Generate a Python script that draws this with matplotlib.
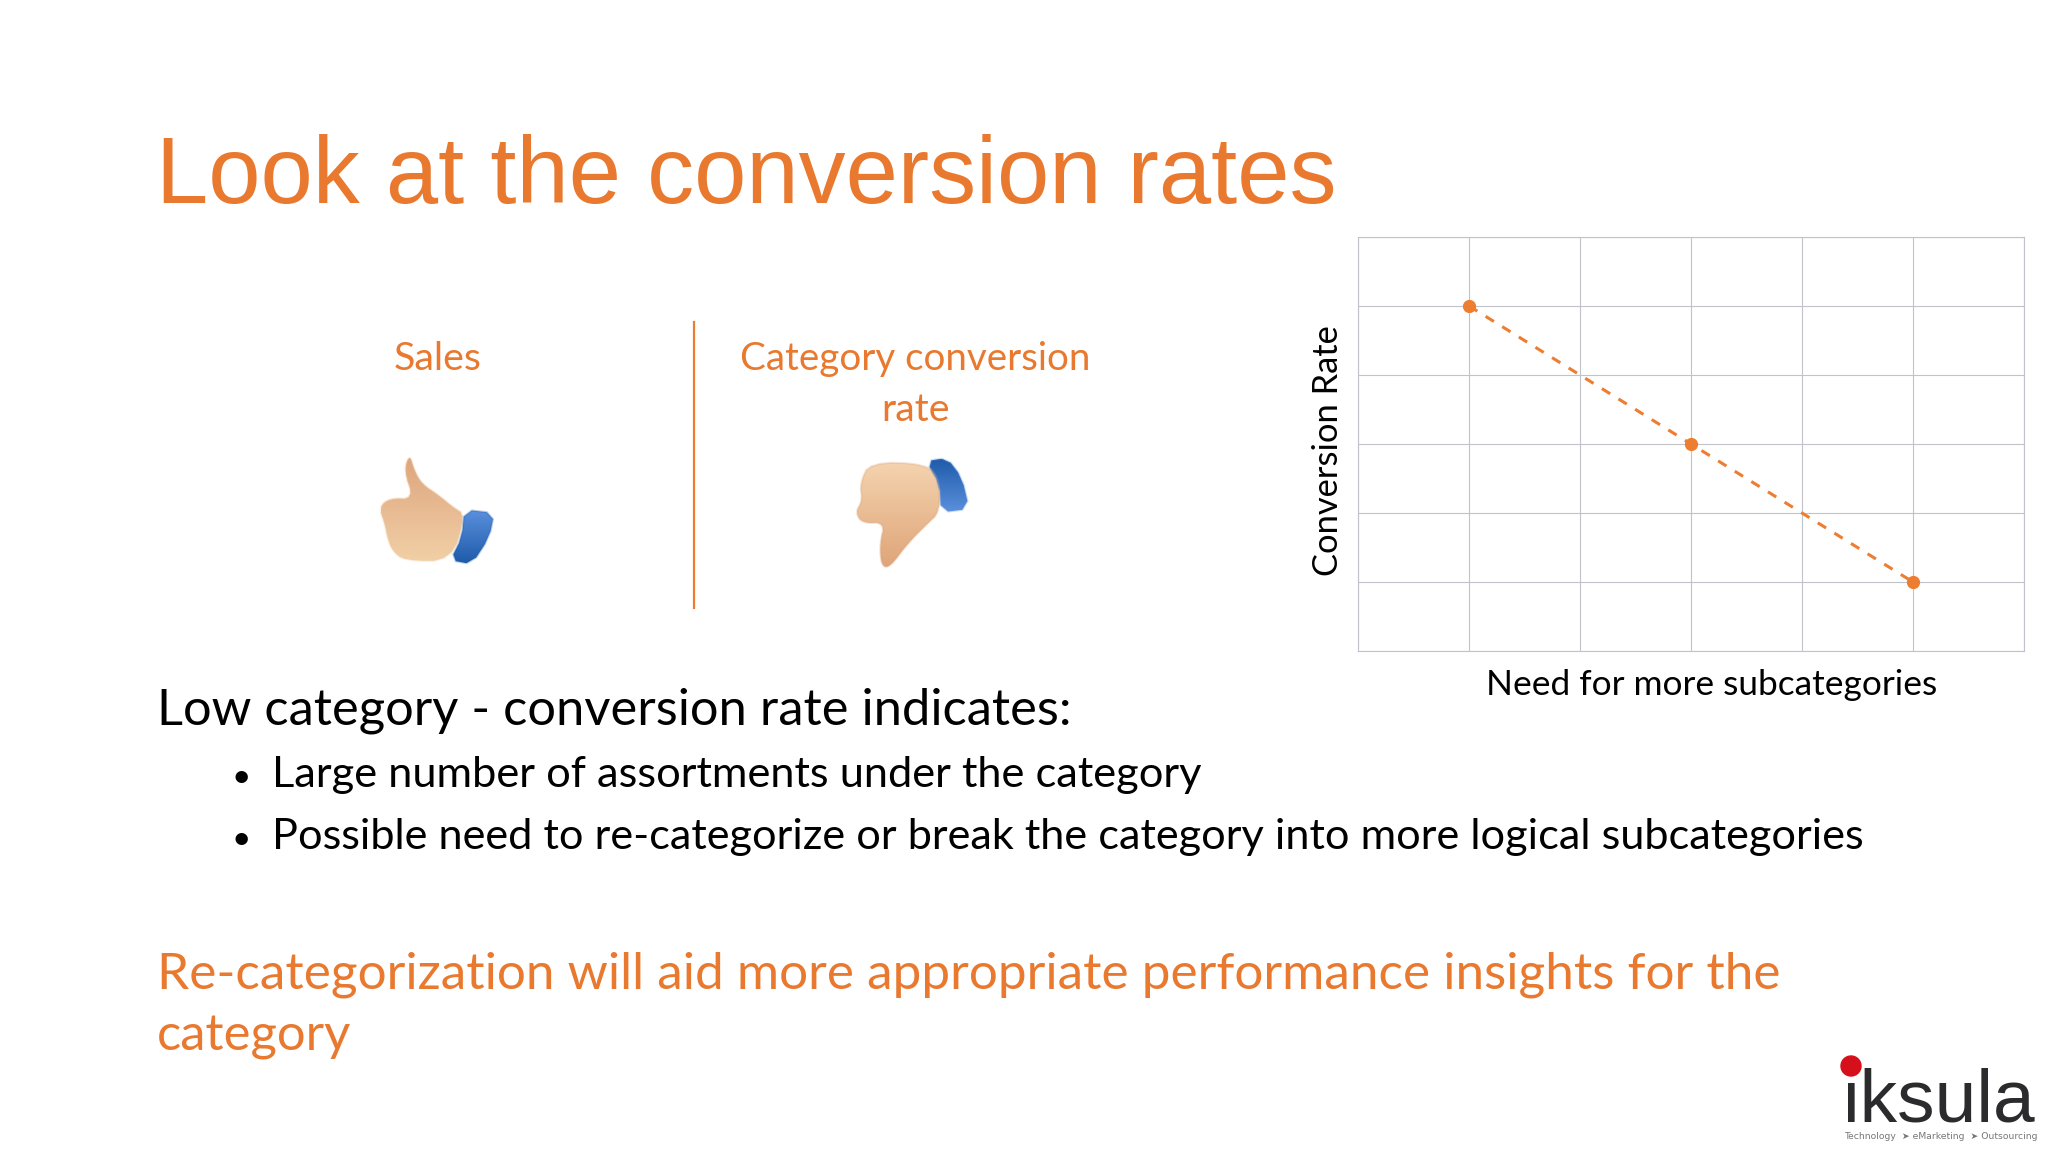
import numpy as np
import matplotlib
matplotlib.use('Agg')
import matplotlib.pyplot as plt
from matplotlib.patches import Polygon, Circle

# chart values
need_x = [1, 3, 5]
conv_y = [5, 3, 1]
grid_ticks = [0, 1, 2, 3, 4, 5, 6]

title_text = 'Look at the conversion rates'
left_head = 'Sales'
right_head = ['Category conversion', 'rate']
low_head = 'Low category - conversion rate indicates:'
bullets = ['Large number of assortments under the category',
           'Possible need to re-categorize or break the category into more logical subcategories']
bottom_lines = ['Re-categorization will aid more appropriate performance insights for the', 'category']

ORANGE = '#ED7D31'
TEXT_ORANGE = '#E8792F'
W, H = 2048, 1152

fig = plt.figure(figsize=(W/100, H/100), dpi=100, facecolor='white')
bg = fig.add_axes([0, 0, 1, 1])
bg.set_xlim(0, W)
bg.set_ylim(H, 0)
bg.axis('off')
renderer = fig.canvas.get_renderer()


def put(x, y, s, width, color='black', family='Lato', ha='left', rotation=0, **kw):
    # scale the font so the string takes the same width as on the slide
    t = bg.text(x, y, s, color=color, family=family, ha=ha, va='baseline',
                rotation=rotation, rotation_mode='anchor', fontsize=20, **kw)
    ext = t.get_window_extent(renderer)
    t.set_fontsize(20*width/max(ext.width, ext.height))
    return t


put(156, 203, title_text, 1176, color=TEXT_ORANGE, family='Liberation Sans')
put(438, 370, left_head, 88, color=TEXT_ORANGE, ha='center')
put(915, 370, right_head[0], 350, color=TEXT_ORANGE, ha='center')
put(915, 421, right_head[1], 69, color=TEXT_ORANGE, ha='center')
bg.plot([693.5, 693.5], [322, 608], color=ORANGE, lw=1.6)

put(157, 725, low_head, 914)
for y, s, w in zip([787, 849], bullets, [934, 1594]):
    bg.text(241, y, '\u2022', fontsize=24, family='Lato', ha='center', va='baseline')
    put(272, y, s, w)
put(157, 989, bottom_lines[0], 1628, color=TEXT_ORANGE)
put(157, 1050, bottom_lines[1], 194, color=TEXT_ORANGE)


def smooth(pts, rounds=2):
    # corner cutting so the hand outlines are not so angular
    pts = np.array(pts, float)
    for _ in range(rounds):
        nxt = np.roll(pts, -1, axis=0)
        pts = np.column_stack([0.75*pts + 0.25*nxt, 0.25*pts + 0.75*nxt]).reshape(-1, 2)
    return pts


def gradient_poly(pts, c1, c2, rounds=2):
    # polygon filled with a soft two colour gradient
    pts = smooth(pts, rounds)
    x0, x1 = pts[:, 0].min(), pts[:, 0].max()
    y0, y1 = pts[:, 1].min(), pts[:, 1].max()
    c1 = np.array(matplotlib.colors.to_rgb(c1))
    c2 = np.array(matplotlib.colors.to_rgb(c2))
    f = np.linspace(0, 1, 64)[:, None]
    img = (c1*(1-f) + c2*f)[:, None, :]
    im = bg.imshow(img, extent=(x0, x1, y1, y0), aspect='auto', zorder=2)
    im.set_clip_path(Polygon(pts, closed=True, transform=bg.transData))
    bg.add_patch(Polygon(pts, closed=True, fc='none', ec=c2, lw=1.5, alpha=0.3, zorder=3))


def from_zoom(pts):
    return [(340 + x/2.01, 310 + y/2.99) for x, y in pts]


up_thumb = from_zoom([(140, 430), (150, 480), (165, 520), (200, 555), (228, 590), (252, 612), (225, 750),
                      (130, 750), (105, 720), (95, 680), (90, 640), (78, 590), (100, 562), (148, 565),
                      (128, 480)])
up_cuff = from_zoom([(250, 597), (310, 607), (300, 680), (265, 760), (222, 748), (245, 680)])
down_thumb = from_zoom([(1065, 455), (1180, 460), (1205, 510), (1205, 605), (1180, 640), (1140, 700),
                        (1105, 770), (1088, 765), (1085, 700), (1095, 635), (1050, 638), (1036, 605),
                        (1050, 570), (1045, 520)])
down_cuff = from_zoom([(1178, 452), (1220, 442), (1250, 500), (1265, 595), (1208, 605), (1205, 520)])
gradient_poly(up_thumb, '#DDA67E', '#F2CFA6')
gradient_poly(up_cuff, '#5A90DC', '#1F5BAA', rounds=1)
gradient_poly(down_thumb, '#F4D3AE', '#DFA57A')
gradient_poly(down_cuff, '#1F5BAA', '#5A90DC', rounds=1)
bg.set_xlim(0, W)
bg.set_ylim(H, 0)

# iksula logo
put(1843, 1121, 'iksula', 192, family=['Liberation Sans Narrow', 'Liberation Sans'], color='#2B2B2D')
bg.add_patch(Circle((1851, 1066), 10, color='#D5101A', zorder=4))
put(1844, 1139, 'Technology  \u27a4 eMarketing  \u27a4 Outsourcing', 192, color='#77777A', family='DejaVu Sans')

# chart
ax = fig.add_axes([1358/W, 1 - 651/H, (2024 - 1358)/W, (651 - 237)/H])
ax.patch.set_alpha(0)
ax.set_xlim(0, 6)
ax.set_ylim(0, 6)
ax.set_xticks(grid_ticks)
ax.set_yticks(grid_ticks)
ax.set_xticklabels([])
ax.set_yticklabels([])
ax.tick_params(length=0)
ax.grid(True, color='#C2C2CA', lw=0.8)
ax.set_axisbelow(True)
for s in ax.spines.values():
    s.set_color('#C2C2CA')
    s.set_linewidth(0.8)
ax.plot(need_x, conv_y, color=ORANGE, lw=2.2, dashes=(3.2, 3.2), marker='o', ms=8.5, mec=ORANGE, mfc=ORANGE)

put(1712, 695, 'Need for more subcategories', 452, ha='center')
put(1338, 451, 'Conversion Rate', 251, ha='center', rotation=90)

fig.savefig('out.png', dpi=100)
